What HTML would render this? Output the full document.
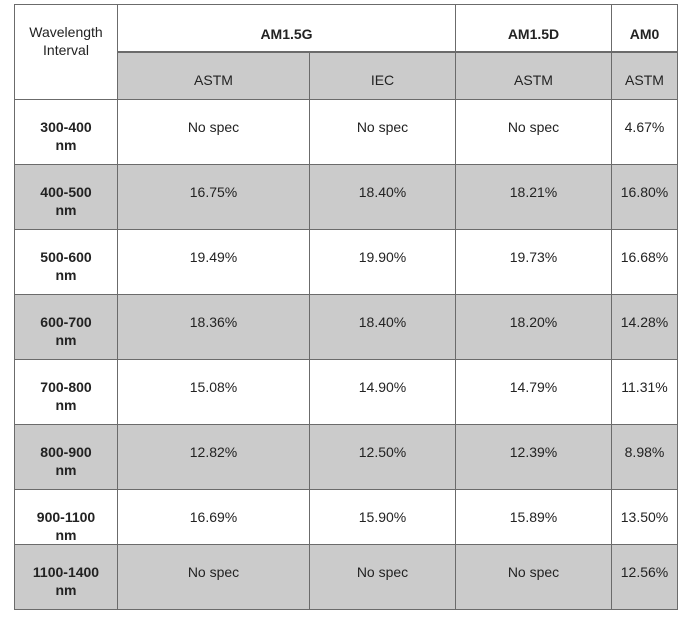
<!DOCTYPE html><html><head><style>
body{margin:0;background:#fff;width:692px;height:617px;position:relative;font-family:"Liberation Sans",sans-serif;color:#222;font-size:14px}
.c{position:absolute;box-sizing:border-box;border:1px solid #6b6b6b;display:flex;align-items:center;justify-content:center;text-align:center;line-height:18px}
.g{background:#cbcbcb}
.b{font-weight:bold}
span{position:relative}
</style></head><body>
<div id="t"></div>
<script>
const cols=[14,117,309,455,611,677];
const rows=[99,164,229,294,359,424,489,544,609];
let h='';
function cell(x1,y1,x2,y2,txt,cls,dy){h+=`<div class="c ${cls||''}" style="left:${x1}px;top:${y1}px;width:${x2-x1+1}px;height:${y2-y1+1}px"><span style="top:${dy||0}px">${txt}</span></div>`;}
cell(14,4,117,99,'Wavelength<br>Interval','',-11);
cell(117,4,455,52,'AM1.5G','b',5);
cell(455,4,611,52,'AM1.5D','b',5);
cell(611,4,677,52,'AM0','b',5);
cell(117,51,309,99,'ASTM','g',4);cell(309,51,455,99,'IEC','g',4);cell(455,51,611,99,'ASTM','g',4);cell(611,51,677,99,'ASTM','g',4);
const data=[['300-400','No spec','No spec','No spec','4.67%'],['400-500','16.75%','18.40%','18.21%','16.80%'],['500-600','19.49%','19.90%','19.73%','16.68%'],['600-700','18.36%','18.40%','18.20%','14.28%'],['700-800','15.08%','14.90%','14.79%','11.31%'],['800-900','12.82%','12.50%','12.39%','8.98%'],['900-1100','16.69%','15.90%','15.89%','13.50%'],['1100-1400','No spec','No spec','No spec','12.56%']];
data.forEach((r,i)=>{const g=i%2?'g':'';const e=(i==6)?5:0;
cell(cols[0],rows[i],cols[1],rows[i+1],r[0]+'<br>nm','b '+g,3+e+1);
for(let j=1;j<5;j++)cell(cols[j],rows[i],cols[j+1],rows[i+1],r[j],g,-5+e);});
document.getElementById('t').innerHTML=h;
</script>
<div class="c" style="left:117px;top:51px;width:561px;height:2px;border:none;background:#6b6b6b"></div>
</body></html>
